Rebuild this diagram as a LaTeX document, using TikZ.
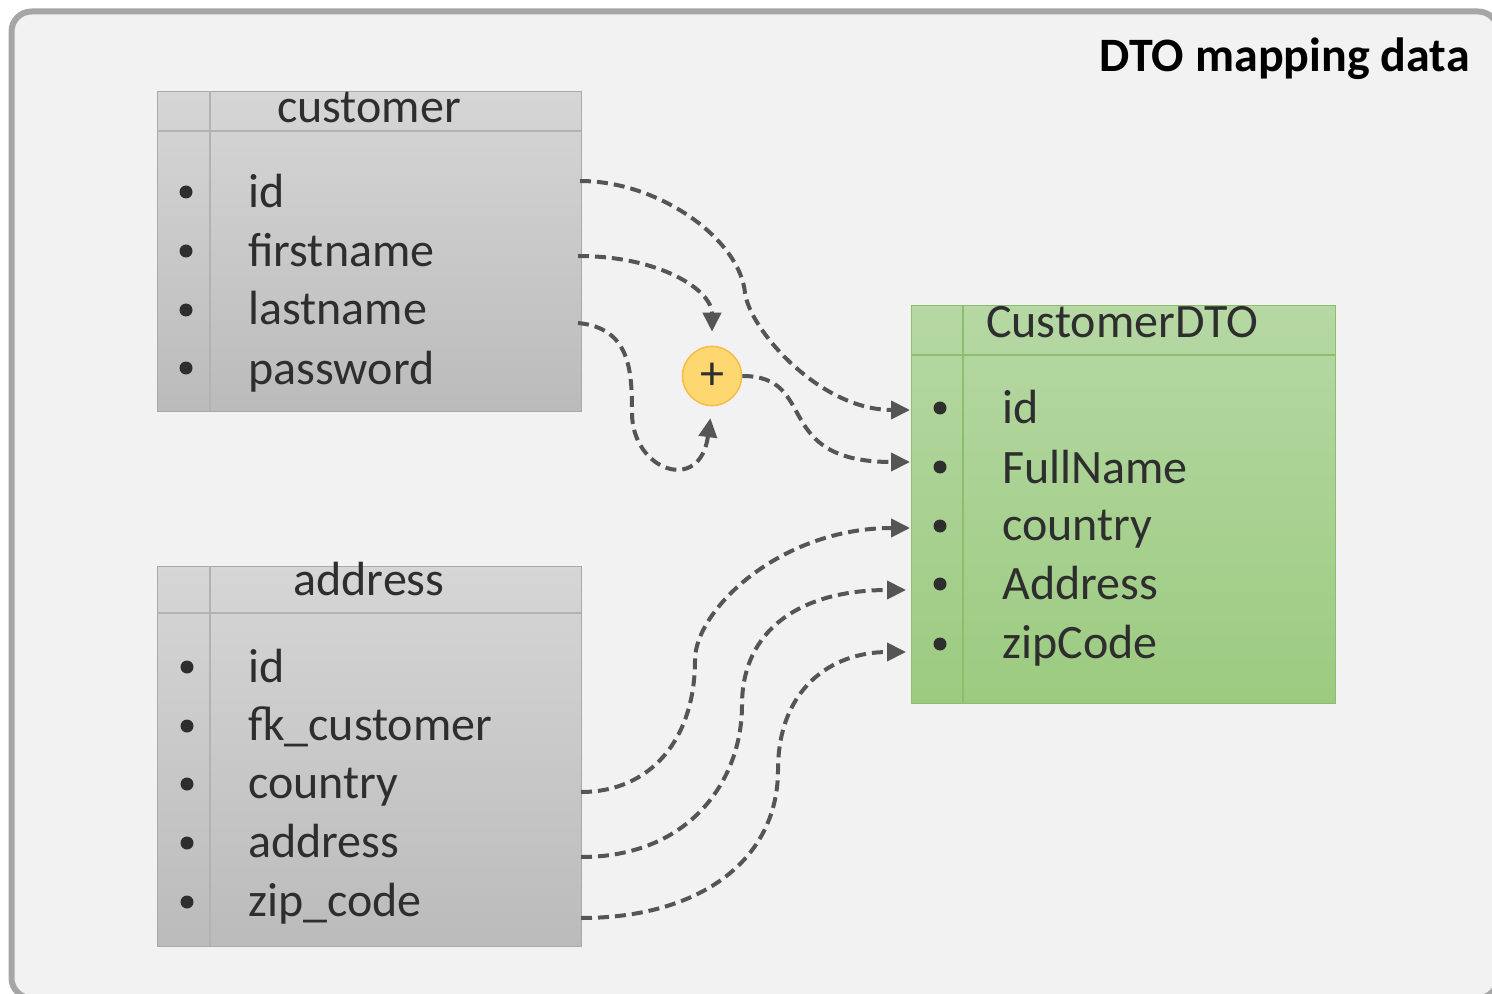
\documentclass[tikz,border=0pt]{standalone}
\usepackage{fontspec}
\setmainfont{Carlito}
\usetikzlibrary{arrows.meta}

\definecolor{pagebg}{HTML}{F2F2F2}
\definecolor{framec}{HTML}{A6A6A6}
\definecolor{txt}{HTML}{2E2E2E}
\definecolor{linkc}{HTML}{555555}
\definecolor{grayTop}{HTML}{D6D6D6}
\definecolor{grayBot}{HTML}{BBBBBB}
\definecolor{grayEdge}{HTML}{A9A9A9}
\definecolor{grayRule}{HTML}{B2B2B2}
\definecolor{greenTop}{HTML}{B6D8A4}
\definecolor{greenBot}{HTML}{9CCB80}
\definecolor{greenEdge}{HTML}{8CBF6C}
\definecolor{greenRule}{HTML}{8DBE6E}
\definecolor{plusFill}{HTML}{FFD770}
\definecolor{plusEdge}{HTML}{F2C04E}

\tikzset{
  frame/.style={draw=framec, line width=3pt, fill=pagebg, rounded corners=10pt},
  graytable/.style={draw=grayEdge, line width=0.7pt, top color=grayTop, bottom color=grayBot,
    anchor=north west, inner sep=0pt, minimum width=212pt},
  greentable/.style={draw=greenEdge, line width=0.7pt, top color=greenTop, bottom color=greenBot,
    anchor=north west, inner sep=0pt, minimum width=212pt},
  grayrule/.style={draw=grayRule, line width=0.7pt},
  greenrule/.style={draw=greenRule, line width=0.7pt},
  field/.style={anchor=base west, inner sep=0pt, text=txt, font=\fontsize{24}{28}\selectfont},
  header/.style={anchor=base, inner sep=0pt, text=txt, font=\fontsize{24}{28}\selectfont},
  dot/.style={circle, fill=txt, inner sep=0pt, minimum size=6.5pt},
  joiner/.style={circle, fill=plusFill, draw=plusEdge, line width=0.8pt, inner sep=0pt,
    minimum size=29.5pt, text=txt, font=\fontsize{24}{28}\selectfont},
  link/.style={draw=linkc, line width=2pt, dash pattern=on 5.5pt off 3pt,
    -{Triangle[length=9.5pt,width=9pt]}},
}

\begin{document}
\begin{tikzpicture}[x=0.5pt, y=-0.5pt]
  \useasboundingbox (0,0) rectangle (1492,994);

  % panel
  \draw[frame] (11.5,11.5) rectangle (1498,998);
  \node[anchor=base east, inner sep=0pt, font=\fontsize{24}{28}\selectfont\bfseries, text=black]
    (title) at (1470,72) {DTO mapping data};

  % customer table
  \node[graytable, minimum height=160pt] (customer) at (157,91) {};
  \draw[grayrule] (157,131) -- (581,131);
  \draw[grayrule] (210,91) -- (210,411);
  \node[header] (customer-h) at (369,123) {customer};
  \node[dot] (cb1) at (186,192) {};
  \node[dot] (cb2) at (186,251) {};
  \node[dot] (cb3) at (186,310) {};
  \node[dot] (cb4) at (186,368) {};
  \node[field] (cf1) at (248,208) {id};
  \node[field] (cf2) at (248,267) {firstname};
  \node[field] (cf3) at (248,325) {lastname};
  \node[field] (cf4) at (248,384) {password};

  % address table
  \node[graytable, minimum height=190pt] (address) at (157,566) {};
  \draw[grayrule] (157,613) -- (581,613);
  \draw[grayrule] (210,566) -- (210,946);
  \node[header] (address-h) at (369,595) {address};
  \node[dot] (ab1) at (187,667) {};
  \node[dot] (ab2) at (187,726) {};
  \node[dot] (ab3) at (187,784) {};
  \node[dot] (ab4) at (187,843) {};
  \node[dot] (ab5) at (187,902) {};
  \node[field] (af1) at (248,682) {id};
  \node[field] (af2) at (248,740) {fk\_customer};
  \node[field] (af3) at (248,798) {country};
  \node[field] (af4) at (248,857) {address};
  \node[field] (af5) at (248,916) {zip\_code};

  % CustomerDTO table
  \node[greentable, minimum height=199pt] (dto) at (911,305) {};
  \draw[greenrule] (911,355) -- (1335,355);
  \draw[greenrule] (963,305) -- (963,704);
  \node[header] (dto-h) at (1122,337) {CustomerDTO};
  \node[dot] (db1) at (940,408) {};
  \node[dot] (db2) at (940,467) {};
  \node[dot] (db3) at (940,526) {};
  \node[dot] (db4) at (940,584) {};
  \node[dot] (db5) at (940,644) {};
  \node[field] (df1) at (1002,423) {id};
  \node[field] (df2) at (1002,483) {FullName};
  \node[field] (df3) at (1002,540) {country};
  \node[field] (df4) at (1002,599) {Address};
  \node[field] (df5) at (1002,658) {zipCode};

  % concatenation
  \node[joiner] (plus) at (712,376) {+};

  % connector ports
  \coordinate (c-id)    at (580,181);
  \coordinate (c-first) at (578,256);
  \coordinate (c-last)  at (578,323);
  \coordinate (a-country) at (581,792);
  \coordinate (a-addr)    at (581,857);
  \coordinate (a-zip)     at (581,918);
  \coordinate (d-id)      at (910,410);
  \coordinate (d-full)    at (910,462);
  \coordinate (d-country) at (910,528);
  \coordinate (d-addr)    at (906,590);
  \coordinate (d-zip)     at (906,652);

  % mappings
  \draw[link] (c-id) .. controls (660,181) and (740,240) .. (745,293)
                     .. controls (750,330) and (820,410) .. (d-id);
  \draw[link, shorten >=7pt] (c-first) .. controls (660,256) and (712,290) .. (plus.north);
  \draw[link, shorten >=6pt] (c-last) .. controls (630,328) and (632,370) .. (632,413)
                     .. controls (632,470) and (700,495) .. (plus.south);
  \draw[link] (plus.east) .. controls (820,376) and (770,462) .. (d-full);
  \draw[link] (a-country) .. controls (650,792) and (695,740) .. (695,660)
                     .. controls (695,610) and (780,528) .. (d-country);
  \draw[link] (a-addr) .. controls (690,857) and (742,780) .. (742,705)
                     .. controls (742,630) and (800,590) .. (d-addr);
  \draw[link] (a-zip) .. controls (700,918) and (778,860) .. (778,770)
                     .. controls (778,690) and (830,652) .. (d-zip);
\end{tikzpicture}
\end{document}
